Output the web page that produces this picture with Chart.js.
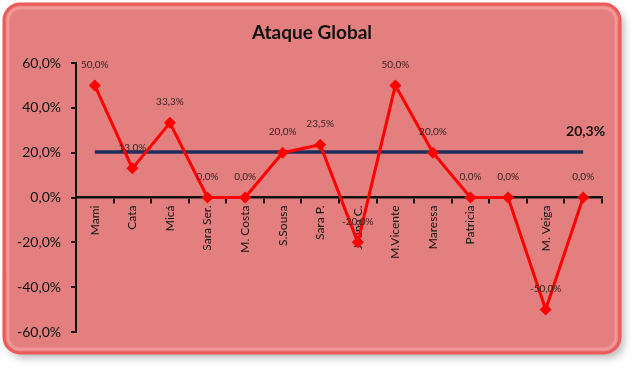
<!DOCTYPE html>
<html>
<head>
<meta charset="utf-8">
<script src="https://cdn.jsdelivr.net/npm/chart.js@4"></script>
<style>
  html, body { margin: 0; padding: 0; background: #fff; }
  #wrap { width: 640px; height: 372px; }
</style>
</head>
<body>
<div id="wrap"><canvas id="chart" width="640" height="372"></canvas></div>
<script>
// values
const players = ['Mami', 'Cata', 'Micá', 'Sara Ser.', 'M. Costa', 'S.Sousa', 'Sara P.', 'Joana C.',
  'M.Vicente', 'Maressa', 'Patricia', '', 'M. Veiga', ''];
const attack = [50.0, 13.0, 33.3, 0.0, 0.0, 20.0, 23.5, -20.0, 50.0, 20.0, 0.0, 0.0, -50.0, 0.0];
const average = 20.3;
const yTicks = [60, 40, 20, 0, -20, -40, -60];
const titleText = 'Ataque Global';

const FONT = 'Lato, "Open Sans", sans-serif';
const fmt = v => v.toFixed(1).replace('.', ',') + '%';

// rounded panel behind the chart, with the title centred on it
const panel = {
  id: 'panel',
  beforeDraw(chart) {
    const ctx = chart.ctx;
    const x = 4, y = 4, w = 616, h = 349, r = 16;
    ctx.save();
    ctx.shadowColor = 'rgba(0,0,0,0.28)';
    ctx.shadowBlur = 8;
    ctx.shadowOffsetX = 4;
    ctx.shadowOffsetY = 5;
    ctx.beginPath();
    ctx.roundRect(x, y, w, h, r);
    ctx.fillStyle = '#e47f7f';
    ctx.fill();
    ctx.restore();

    ctx.save();
    ctx.beginPath();
    ctx.roundRect(x + 4, y + 4, w - 8, h - 8, r - 4);
    ctx.strokeStyle = 'rgba(255,170,170,0.55)';
    ctx.lineWidth = 3;
    ctx.stroke();
    ctx.beginPath();
    ctx.roundRect(x, y, w, h, r);
    ctx.strokeStyle = '#ee5959';
    ctx.lineWidth = 3;
    ctx.stroke();

    ctx.font = 'bold 19px ' + FONT;
    ctx.fillStyle = '#111';
    ctx.textAlign = 'center';
    ctx.textBaseline = 'middle';
    ctx.fillText(titleText, x + w / 2, 33);
    ctx.restore();
  }
};

// value labels above each point + the average label
const valueLabels = {
  id: 'valueLabels',
  afterDatasetsDraw(chart) {
    const ctx = chart.ctx;
    const meta = chart.getDatasetMeta(0);
    ctx.save();
    ctx.font = '10px ' + FONT;
    ctx.fillStyle = '#3a2020';
    ctx.textAlign = 'center';
    ctx.textBaseline = 'middle';
    meta.data.forEach((pt, i) => {
      ctx.fillText(fmt(attack[i]), pt.x, pt.y - 21);
    });
    const avgMeta = chart.getDatasetMeta(1);
    const last = avgMeta.data[avgMeta.data.length - 1];
    ctx.font = 'bold 14px ' + FONT;
    ctx.fillStyle = '#1a1010';
    ctx.textAlign = 'right';
    ctx.fillText(fmt(average), last.x + 22, last.y - 21);
    ctx.restore();
  }
};

new Chart(document.getElementById('chart'), {
  type: 'line',
  data: {
    labels: players,
    datasets: [
      {
        label: 'Ataque',
        data: attack,
        borderColor: '#ff0000',
        backgroundColor: '#ff0000',
        borderWidth: 3,
        pointStyle: 'rectRot',
        pointRadius: 6,
        pointBorderWidth: 0,
        tension: 0,
        order: 1
      },
      {
        label: 'Média',
        data: players.map(() => average),
        borderColor: '#1f2f5c',
        borderWidth: 3.5,
        pointRadius: 0,
        order: 2
      }
    ]
  },
  options: {
    responsive: false,
    animation: false,
    layout: { padding: { top: 63, left: 0, right: 38, bottom: 40 } },
    plugins: {
      legend: { display: false },
      tooltip: { enabled: false },
      title: { display: false }
    },
    scales: {
      x: {
        position: { y: 0 },
        offset: true,
        border: { color: '#111', width: 2.5 },
        grid: { offset: true, drawOnChartArea: false, drawTicks: true, tickLength: 5, color: '#111', lineWidth: 2 },
        ticks: {
          color: '#111',
          font: { family: FONT, size: 12 },
          minRotation: 90,
          maxRotation: 90,
          autoSkip: false,
          padding: 3
        }
      },
      y: {
        min: -60,
        max: 60,
        afterBuildTicks: s => { s.ticks = yTicks.map(v => ({ value: v })); },
        afterFit: s => { s.width = 76; },
        border: { color: '#111', width: 2 },
        grid: { drawOnChartArea: false, drawTicks: true, tickLength: 5, color: '#111', lineWidth: 2 },
        ticks: {
          color: '#111',
          font: { family: FONT, size: 14 },
          padding: 10,
          callback: v => fmt(v)
        }
      }
    }
  },
  plugins: [panel, valueLabels]
});
</script>
</body>
</html>
